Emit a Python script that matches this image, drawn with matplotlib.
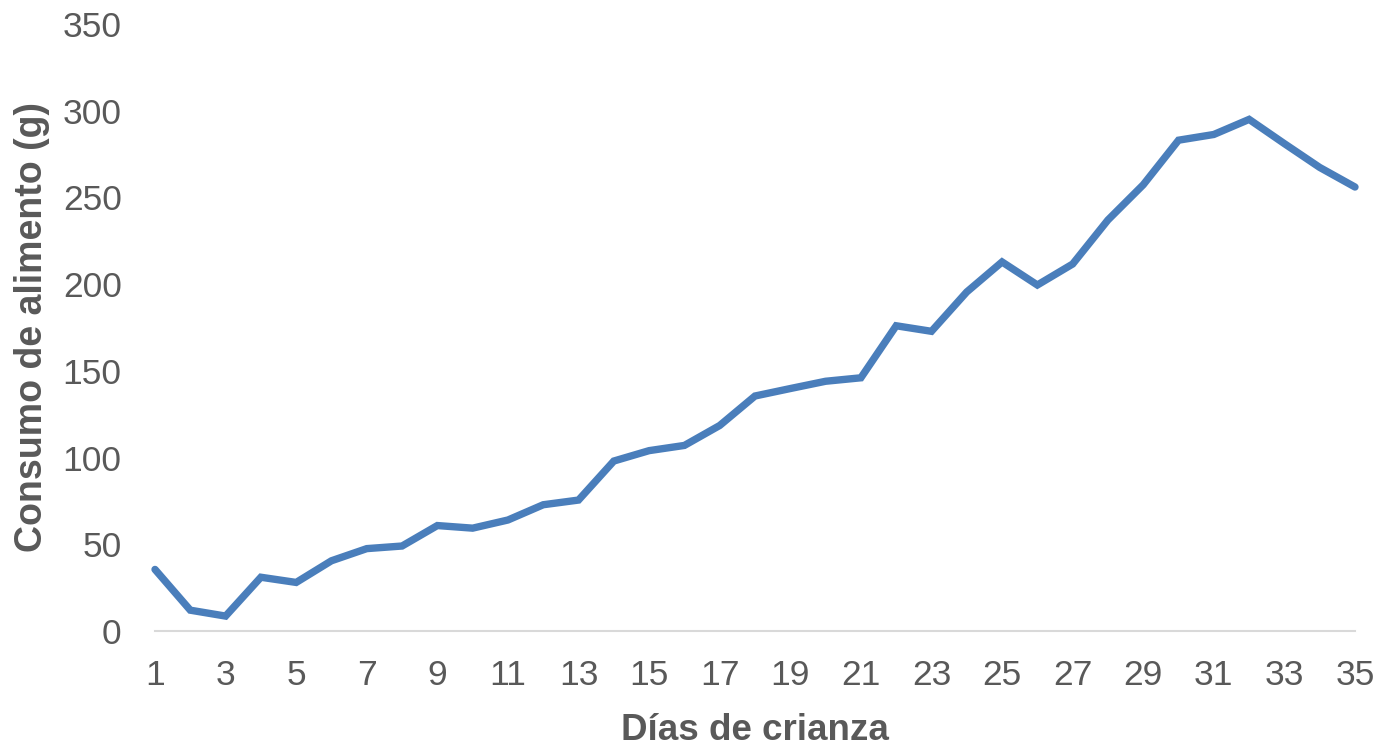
import matplotlib.pyplot as plt

plt.rcParams['font.family'] = ['Liberation Sans', 'DejaVu Sans']

dias = list(range(1, 36))
consumo = [35.5, 12, 8.6, 31, 28, 40.5, 47.5, 49, 60.8, 59.3, 64, 72.8, 75.5,
           98, 104, 107, 118.5, 135.5, 139.8, 144, 146, 176, 172.8, 195.5, 212.8,
           199.5, 211.6, 237, 257.3, 283, 286.3, 295, 281, 267.3, 256]
xticks = list(range(1, 36, 2))
yticks = list(range(0, 351, 50))

gris = '#595959'

fig = plt.figure(figsize=(13.81, 7.45), dpi=100)
ax = fig.add_axes([155 / 1381, 1 - 631 / 745, 1200 / 1381, 607 / 745])

ax.plot(dias, consumo, color='#4A7EBB', linewidth=5.3, solid_joinstyle='miter',
        solid_capstyle='round', zorder=3, clip_on=False)

ax.set_xlim(1, 35)
ax.set_ylim(0, 350)
ax.set_xticks(xticks)
ax.set_yticks(yticks)

for s in ['top', 'right', 'left']:
    ax.spines[s].set_visible(False)
ax.spines['bottom'].set_color('#D9D9D9')
ax.spines['bottom'].set_linewidth(1.5)

ax.tick_params(axis='both', length=0, labelsize=25.5, labelcolor=gris)
ax.tick_params(axis='y', pad=24)
ax.tick_params(axis='x', pad=20)

ax.set_xlabel('Días de crianza', fontsize=26.5, fontweight='bold', color=gris, labelpad=15)
ax.set_ylabel('Consumo de alimento (g)', fontsize=27, fontweight='bold', color=gris, labelpad=9)

fig.savefig('out.png', dpi=100)
